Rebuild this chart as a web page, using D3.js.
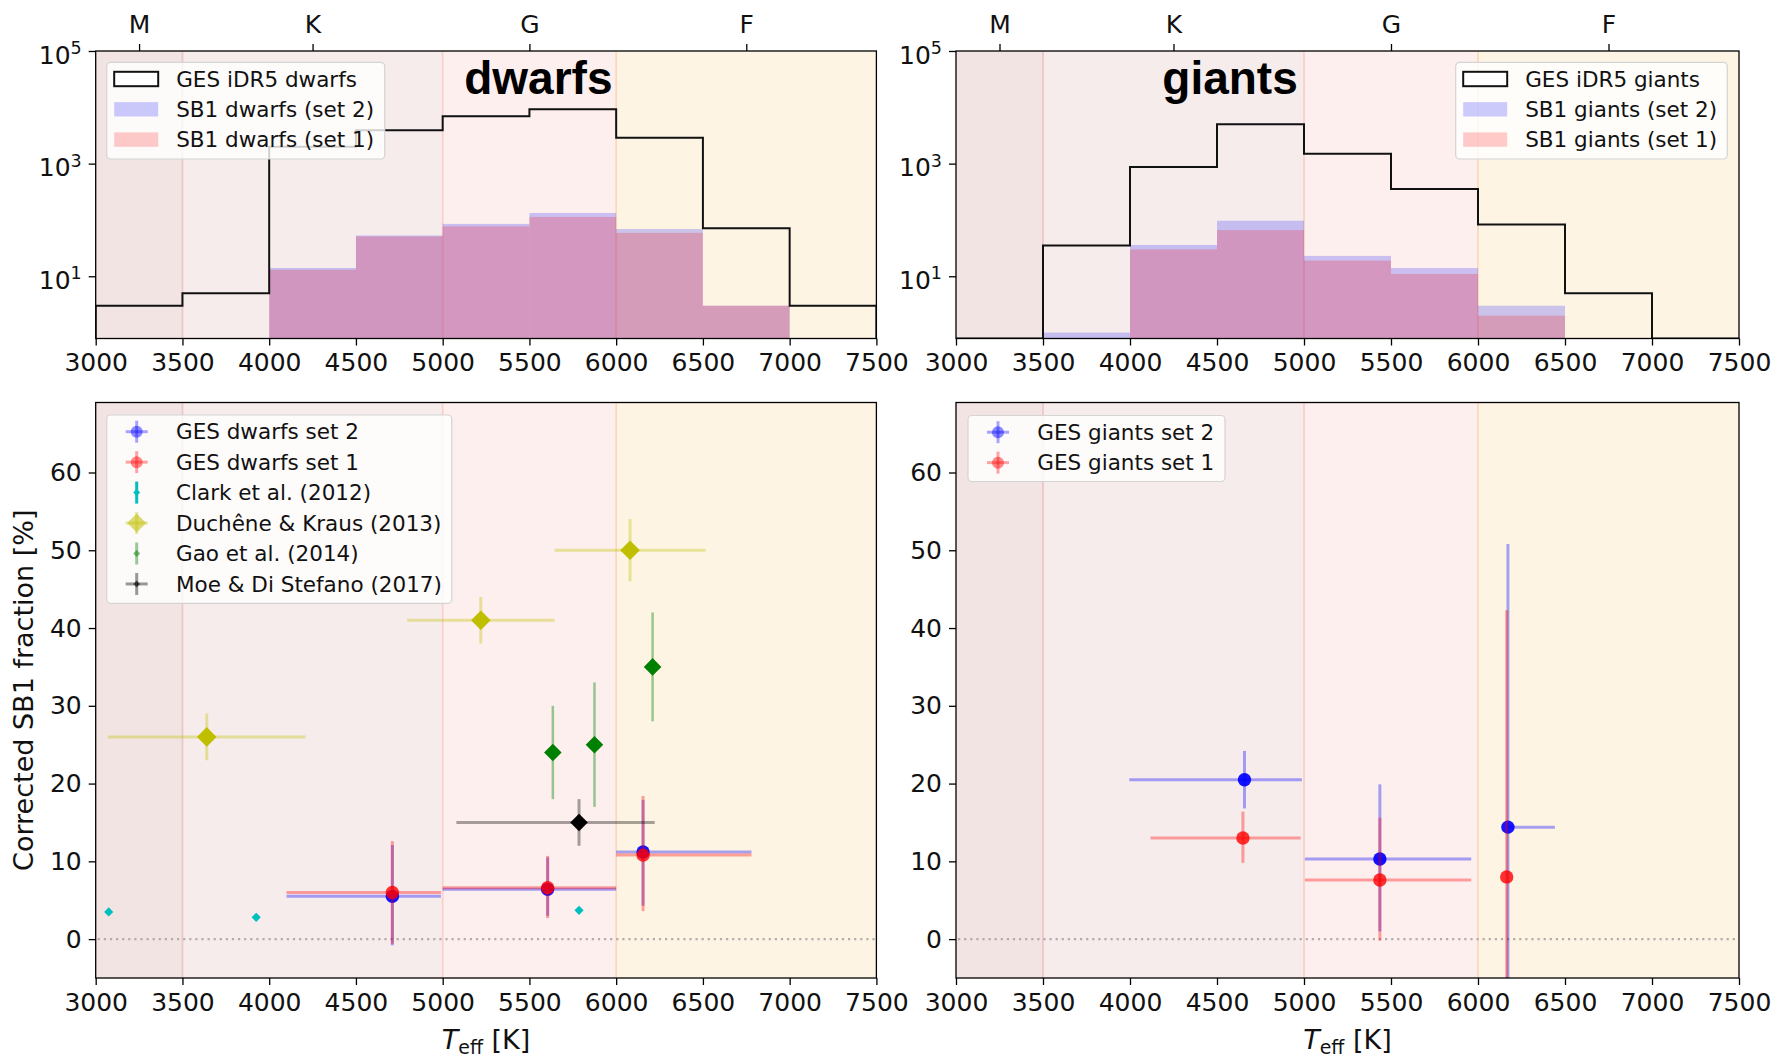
<!DOCTYPE html>
<html>
<head>
<meta charset="utf-8">
<script src="https://cdn.jsdelivr.net/npm/d3@7"></script>
<style>
  html, body { margin: 0; padding: 0; background: #ffffff; }
  svg { display: block; }
  text { font-family: "DejaVu Sans", sans-serif; fill: #111; }
</style>
</head>
<body>
<svg id="figure" width="1787" height="1057"></svg>
<script>
// ---------- Temperature binning and axis ticks ----------
const binEdges = [3000, 3500, 4000, 4500, 5000, 5500, 6000, 6500, 7000, 7500];
const teffTicks = [3000, 3500, 4000, 4500, 5000, 5500, 6000, 6500, 7000, 7500];
const countTicks = [1e1, 1e3, 1e5];
const fractionTicks = [0, 10, 20, 30, 40, 50, 60];
const spectralClasses = ["M", "K", "G", "F"];
const spectralClassTeff = [3250, 4250, 5500, 6750];
const classSpanEdges = [3000, 3500, 5000, 6000, 7500];

// ---------- Star counts per Teff bin ----------
const gesDwarfCounts = [3, 5, 2000, 3900, 6950, 9250, 2870, 71, 3];
const sb1DwarfCountsSet2 = [0, 0, 14, 53, 85, 133, 69, 3, 0];
const sb1DwarfCountsSet1 = [0, 0, 13, 51, 77, 113, 59, 3, 0];
const gesGiantCounts = [0, 35, 867, 5015, 1494, 353, 83, 5, 0];
const sb1GiantCountsSet2 = [0, 1, 36, 97, 23, 14, 3, 0, 0];
const sb1GiantCountsSet1 = [0, 0, 30, 66, 19, 11, 2, 0, 0];

// ---------- Corrected SB1 fractions: GES dwarfs ----------
const dwarfTeffSet2 = [4710, 5605, 6155];
const dwarfTeffErrLoSet2 = [610, 605, 155];
const dwarfTeffErrHiSet2 = [280, 395, 625];
const dwarfFracSet2 = [5.5, 6.4, 11.2];
const dwarfFracErrLoSet2 = [6.3, 3.4, 6.9];
const dwarfFracErrHiSet2 = [6.6, 4.1, 6.7];

const dwarfTeffSet1 = [4710, 5605, 6155];
const dwarfTeffErrLoSet1 = [610, 605, 155];
const dwarfTeffErrHiSet1 = [280, 395, 625];
const dwarfFracSet1 = [6.0, 6.6, 10.8];
const dwarfFracErrLoSet1 = [6.6, 3.9, 7.2];
const dwarfFracErrHiSet1 = [6.6, 4.1, 7.6];

// ---------- Literature values ----------
const clarkTeff = [3075, 3925, 5786];
const clarkFrac = [3.5, 2.8, 3.7];
const clarkFracErr = [0.4, 0.4, 0.4];

const duchene13Teff = [3640, 5220, 6080];
const duchene13TeffErr = [570, 425, 435];
const duchene13Frac = [26, 41, 50];
const duchene13FracErr = [3, 3, 4];

const gao14Teff = [5635, 5875, 6210];
const gao14Frac = [24, 25, 35];
const gao14FracErr = [6, 8, 7];

const moe17Teff = [5786];
const moe17TeffErrLo = [707];
const moe17TeffErrHi = [436];
const moe17Frac = [15];
const moe17FracErr = [3];

// ---------- Corrected SB1 fractions: GES giants ----------
const giantTeffSet2 = [4658, 5436, 6172];
const giantTeffErrLoSet2 = [662, 431, 0];
const giantTeffErrHiSet2 = [330, 525, 270];
const giantFracSet2 = [20.5, 10.3, 14.4];
const giantFracErrLoSet2 = [3.7, 9.3, 20.4];
const giantFracErrHiSet2 = [3.7, 9.6, 36.4];

const giantTeffSet1 = [4649, 5436, 6165];
const giantTeffErrLoSet1 = [531, 431, 0];
const giantTeffErrHiSet1 = [332, 525, 0];
const giantFracSet1 = [13.0, 7.6, 8.0];
const giantFracErrLoSet1 = [3.2, 7.8, 14.0];
const giantFracErrHiSet1 = [3.4, 8.0, 34.3];

// ---------- Layout and styling ----------
const columns = [{ x0: 95.7, x1: 876.4 }, { x0: 956, x1: 1739 }];
const histRow = { y0: 51, y1: 338.5 };
const fracRow = { y0: 402.5, y1: 978 };
const countDomain = [0.785, 1e5];
const fracDomain = [-5, 69];

const classFill = ["#f3e4e4", "#f7ecec", "#fdefed", "#fef4e4"];
const classEdge = { 3500: "#ebc7c8", 5000: "#f8d1cd", 6000: "#fbd8bd" };
const tickFont = 25, legendFont = 21.5, labelFont = 27;

const svg = d3.select("#figure");
const defs = svg.append("defs");
let clipCount = 0;

function makePanel(col, row, yScale) {
  const x = d3.scaleLinear().domain([3000, 7500]).range([col.x0, col.x1]);
  const y = yScale.range([row.y1, row.y0]);
  const id = "clip" + (clipCount++);
  defs.append("clipPath").attr("id", id).append("rect")
    .attr("x", col.x0).attr("y", row.y0)
    .attr("width", col.x1 - col.x0).attr("height", row.y1 - row.y0);
  const g = svg.append("g");
  const plot = g.append("g").attr("clip-path", `url(#${id})`);

  // spectral class background bands
  for (let i = 0; i < classSpanEdges.length - 1; i++) {
    plot.append("rect")
      .attr("x", x(classSpanEdges[i])).attr("y", row.y0)
      .attr("width", x(classSpanEdges[i + 1]) - x(classSpanEdges[i]))
      .attr("height", row.y1 - row.y0)
      .attr("fill", classFill[i]);
  }
  classSpanEdges.slice(1, -1).forEach(t => {
    plot.append("line")
      .attr("x1", x(t)).attr("x2", x(t)).attr("y1", row.y0).attr("y2", row.y1)
      .attr("stroke", classEdge[t]).attr("stroke-width", 1.8);
  });
  return { g, plot, x, y, row, col };
}

function styleAxis(axisG, size) {
  axisG.select(".domain").remove();
  axisG.selectAll(".tick line").attr("stroke", "#000").attr("stroke-width", 1.3);
  axisG.selectAll(".tick text")
    .attr("font-family", "DejaVu Sans, sans-serif")
    .attr("font-size", size).attr("fill", "#111");
}

function drawFrame(p) {
  p.g.append("rect")
    .attr("x", p.col.x0).attr("y", p.row.y0)
    .attr("width", p.col.x1 - p.col.x0).attr("height", p.row.y1 - p.row.y0)
    .attr("fill", "none").attr("stroke", "#000").attr("stroke-width", 1.3);
}

function drawTeffAxis(p) {
  const ax = p.g.append("g").attr("transform", `translate(0,${p.row.y1})`)
    .call(d3.axisBottom(p.x).tickValues(teffTicks).tickFormat(d3.format("d"))
      .tickSize(7).tickPadding(8));
  styleAxis(ax, tickFont);
}

function drawSpectralAxis(p) {
  const ax = p.g.append("g").attr("transform", `translate(0,${p.row.y0})`)
    .call(d3.axisTop(p.x).tickValues(spectralClassTeff)
      .tickFormat((d, i) => spectralClasses[i]).tickSize(7).tickPadding(11));
  styleAxis(ax, tickFont);
}

function drawLegendBox(g, x0, y0, w, h) {
  g.append("rect").attr("x", x0).attr("y", y0).attr("width", w).attr("height", h)
    .attr("rx", 4).attr("ry", 4)
    .attr("fill", "#ffffff").attr("fill-opacity", 0.8)
    .attr("stroke", "#d4d4d4").attr("stroke-width", 1.2);
}

// ---------- Histogram panels ----------
function histPanel(col, counts, set2, set1, names, legendX, legendW, title, titleFrac) {
  const p = makePanel(col, histRow, d3.scaleLog().domain(countDomain));
  const base = countDomain[0];
  const bins = counts.map((c, i) => ({ lo: binEdges[i], hi: binEdges[i + 1] }));

  [[set2, "#0000ff"], [set1, "#ff0000"]].forEach(([vals, color]) => {
    p.plot.append("g").selectAll("rect")
      .data(bins.map((b, i) => ({ ...b, v: vals[i] })).filter(d => d.v > 0))
      .join("rect")
      .attr("x", d => p.x(d.lo)).attr("width", d => p.x(d.hi) - p.x(d.lo))
      .attr("y", d => p.y(d.v)).attr("height", d => p.y(base) - p.y(d.v))
      .attr("fill", color).attr("fill-opacity", 0.2);
  });

  // outline of the full sample as a step histogram
  const pts = [[binEdges[0], base]];
  counts.forEach((c, i) => {
    const v = c > 0 ? c : base;
    pts.push([binEdges[i], v], [binEdges[i + 1], v]);
  });
  pts.push([binEdges[binEdges.length - 1], base]);
  p.plot.append("path")
    .attr("d", d3.line().x(d => p.x(d[0])).y(d => p.y(d[1]))(pts))
    .attr("fill", "none").attr("stroke", "#111").attr("stroke-width", 2);

  // title
  p.g.append("text")
    .attr("x", col.x0 + titleFrac * (col.x1 - col.x0)).attr("y", 94)
    .attr("text-anchor", "middle")
    .attr("font-weight", "bold").attr("font-size", 46)
    .style("font-family", "Liberation Sans, Arial, sans-serif")
    .style("fill", "#000")
    .text(title);

  // legend
  const lg = p.g.append("g");
  const ly0 = 62.3;
  drawLegendBox(lg, legendX, ly0, legendW, 96.7);
  const patches = [
    { fill: "#ffffff", stroke: "#111" },
    { fill: "rgba(0,0,255,0.2)", stroke: "none" },
    { fill: "rgba(255,0,0,0.2)", stroke: "none" }
  ];
  names.forEach((name, i) => {
    const cy = ly0 + 16.7 + i * 30.3;
    lg.append("rect").attr("x", legendX + 7.5).attr("y", cy - 7.2)
      .attr("width", 44).attr("height", 14.4)
      .attr("fill", patches[i].fill).attr("stroke", patches[i].stroke)
      .attr("stroke-width", patches[i].stroke === "none" ? 0 : 2);
    lg.append("text").attr("x", legendX + 69.5).attr("y", cy + 7.7)
      .attr("font-size", legendFont).text(name);
  });

  drawFrame(p);
  drawTeffAxis(p);
  drawSpectralAxis(p);

  const ay = p.g.append("g").attr("transform", `translate(${col.x0},0)`)
    .call(d3.axisLeft(p.y).tickValues(countTicks).tickSize(7).tickPadding(7));
  styleAxis(ay, tickFont);
  ay.selectAll(".tick text").attr("dy", "0.48em").each(function (d) {
    const t = d3.select(this);
    t.text("");
    t.append("tspan").text("10");
    t.append("tspan").attr("dy", "-0.55em").attr("font-size", "0.7em")
      .text(Math.round(Math.log10(d)));
  });
  return p;
}

histPanel(columns[0], gesDwarfCounts, sb1DwarfCountsSet2, sb1DwarfCountsSet1,
  ["GES iDR5 dwarfs", "SB1 dwarfs (set 2)", "SB1 dwarfs (set 1)"], 106.7, 278, "dwarfs", 0.567);
histPanel(columns[1], gesGiantCounts, sb1GiantCountsSet2, sb1GiantCountsSet1,
  ["GES iDR5 giants", "SB1 giants (set 2)", "SB1 giants (set 1)"], 1455.7, 271.6, "giants", 0.35);

// ---------- Fraction panels ----------
function series(teff, teffLo, teffHi, frac, fracLo, fracHi) {
  return teff.map((t, i) => ({
    t, tLo: teffLo ? teffLo[i] : 0, tHi: teffHi ? teffHi[i] : 0,
    f: frac[i], fLo: fracLo[i], fHi: fracHi[i]
  }));
}

function markerPath(shape, r) {
  if (shape === "circle") return d3.symbol(d3.symbolCircle, Math.PI * r * r)();
  return d3.symbol(d3.symbolSquare, 2 * r * r)();
}

function drawErrorbars(p, data, st) {
  const g = p.plot.append("g");
  data.forEach(d => {
    if (d.tLo > 0 || d.tHi > 0) {
      g.append("line")
        .attr("x1", p.x(d.t - d.tLo)).attr("x2", p.x(d.t + d.tHi))
        .attr("y1", p.y(d.f)).attr("y2", p.y(d.f))
        .attr("stroke", st.color).attr("stroke-opacity", st.barAlpha)
        .attr("stroke-width", st.barWidth);
    }
    g.append("line")
      .attr("x1", p.x(d.t)).attr("x2", p.x(d.t))
      .attr("y1", p.y(d.f - d.fLo)).attr("y2", p.y(d.f + d.fHi))
      .attr("stroke", st.color).attr("stroke-opacity", st.barAlpha)
      .attr("stroke-width", st.barWidth);
  });
  g.selectAll("path.mk").data(data).join("path").attr("class", "mk")
    .attr("d", markerPath(st.shape, st.size))
    .attr("transform", d => `translate(${p.x(d.t)},${p.y(d.f)})` + (st.shape === "diamond" ? " rotate(45)" : ""))
    .attr("fill", st.color).attr("fill-opacity", st.markerAlpha);
}

function drawFracLegend(p, x0, y0, w, h, entries) {
  const lg = p.g.append("g");
  drawLegendBox(lg, x0, y0, w, h);
  entries.forEach((e, i) => {
    const cy = y0 + 16.7 + i * 30.45;
    const cx = x0 + 30;
    if (e.hbar) lg.append("line").attr("x1", cx - 11).attr("x2", cx + 11)
      .attr("y1", cy).attr("y2", cy).attr("stroke", e.color)
      .attr("stroke-opacity", e.barAlpha).attr("stroke-width", 3);
    lg.append("line").attr("x1", cx).attr("x2", cx).attr("y1", cy - 11).attr("y2", cy + 11)
      .attr("stroke", e.color).attr("stroke-opacity", e.barAlpha).attr("stroke-width", 3);
    lg.append("path").attr("d", markerPath(e.shape, e.size))
      .attr("transform", `translate(${cx},${cy})` + (e.shape === "diamond" ? " rotate(45)" : ""))
      .attr("fill", e.markerColor || e.color).attr("fill-opacity", e.markerAlpha);
    lg.append("text").attr("x", x0 + 69.3).attr("y", cy + 7.7)
      .attr("font-size", legendFont).text(e.label);
  });
}

function fracPanel(col, showYLabel) {
  const p = makePanel(col, fracRow, d3.scaleLinear().domain(fracDomain));
  p.plot.append("line")
    .attr("x1", col.x0 + 2).attr("x2", col.x1).attr("y1", p.y(0)).attr("y2", p.y(0))
    .attr("stroke", "#a8a0a0").attr("stroke-opacity", 0.85)
    .attr("stroke-width", 2.2).attr("stroke-dasharray", "2.2,3.9");
  drawFrame(p);
  drawTeffAxis(p);
  const ay = p.g.append("g").attr("transform", `translate(${col.x0},0)`)
    .call(d3.axisLeft(p.y).tickValues(fractionTicks).tickSize(7).tickPadding(7));
  styleAxis(ay, tickFont);

  const xl = p.g.append("text")
    .attr("x", (col.x0 + col.x1) / 2).attr("y", 1048.5)
    .attr("text-anchor", "middle").attr("font-size", labelFont);
  xl.append("tspan").attr("font-style", "italic").text("T");
  xl.append("tspan").attr("font-size", "0.7em").attr("dy", 5).text("eff");
  xl.append("tspan").attr("dy", -5).text(" [K]");

  if (showYLabel) {
    p.g.append("text")
      .attr("transform", `translate(33,${(fracRow.y0 + fracRow.y1) / 2}) rotate(-90)`)
      .attr("text-anchor", "middle").attr("font-size", labelFont)
      .text("Corrected SB1 fraction [%]");
  }
  return p;
}

const gesSet2Style = { color: "#0000ff", barAlpha: 0.35, barWidth: 3, shape: "circle", size: 6.7, markerAlpha: 0.92 };
const gesSet1Style = { color: "#ff0000", barAlpha: 0.35, barWidth: 3, shape: "circle", size: 6.7, markerAlpha: 0.8 };

// dwarfs
const pd = fracPanel(columns[0], true);
drawErrorbars(pd, series(dwarfTeffSet2, dwarfTeffErrLoSet2, dwarfTeffErrHiSet2,
  dwarfFracSet2, dwarfFracErrLoSet2, dwarfFracErrHiSet2), gesSet2Style);
drawErrorbars(pd, series(dwarfTeffSet1, dwarfTeffErrLoSet1, dwarfTeffErrHiSet1,
  dwarfFracSet1, dwarfFracErrLoSet1, dwarfFracErrHiSet1), gesSet1Style);
drawErrorbars(pd, series(clarkTeff, null, null, clarkFrac, clarkFracErr, clarkFracErr),
  { color: "#00bfbf", barAlpha: 1, barWidth: 2, shape: "diamond", size: 4.6, markerAlpha: 1 });
drawErrorbars(pd, series(duchene13Teff, duchene13TeffErr, duchene13TeffErr,
  duchene13Frac, duchene13FracErr, duchene13FracErr),
  { color: "#bfbf00", barAlpha: 0.35, barWidth: 3, shape: "diamond", size: 9.8, markerAlpha: 1 });
drawErrorbars(pd, series(gao14Teff, null, null, gao14Frac, gao14FracErr, gao14FracErr),
  { color: "#008000", barAlpha: 0.4, barWidth: 2.5, shape: "diamond", size: 8.8, markerAlpha: 1 });
drawErrorbars(pd, series(moe17Teff, moe17TeffErrLo, moe17TeffErrHi, moe17Frac, moe17FracErr, moe17FracErr),
  { color: "#000000", barAlpha: 0.35, barWidth: 3, shape: "diamond", size: 8.8, markerAlpha: 1 });

drawFracLegend(pd, 106.7, 415, 345, 188.3, [
  { label: "GES dwarfs set 2", color: "#0000ff", barAlpha: 0.35, hbar: true, shape: "circle", size: 6, markerAlpha: 0.45 },
  { label: "GES dwarfs set 1", color: "#ff0000", barAlpha: 0.35, hbar: true, shape: "circle", size: 6, markerAlpha: 0.45 },
  { label: "Clark et al. (2012)", color: "#00bfbf", barAlpha: 1, hbar: false, shape: "diamond", size: 3.5, markerAlpha: 1 },
  { label: "Duchêne & Kraus (2013)", color: "#bfbf00", barAlpha: 0.35, hbar: true, shape: "diamond", size: 9.5, markerAlpha: 0.55 },
  { label: "Gao et al. (2014)", color: "#008000", barAlpha: 0.4, hbar: false, shape: "diamond", size: 3.5, markerAlpha: 0.5 },
  { label: "Moe & Di Stefano (2017)", color: "#000000", barAlpha: 0.4, hbar: true, shape: "diamond", size: 3.5, markerAlpha: 0.55 }
]);

// giants
const pg = fracPanel(columns[1], false);
drawErrorbars(pg, series(giantTeffSet2, giantTeffErrLoSet2, giantTeffErrHiSet2,
  giantFracSet2, giantFracErrLoSet2, giantFracErrHiSet2), gesSet2Style);
drawErrorbars(pg, series(giantTeffSet1, giantTeffErrLoSet1, giantTeffErrHiSet1,
  giantFracSet1, giantFracErrLoSet1, giantFracErrHiSet1), gesSet1Style);

drawFracLegend(pg, 968, 415.5, 257, 66, [
  { label: "GES giants set 2", color: "#0000ff", barAlpha: 0.35, hbar: true, shape: "circle", size: 6, markerAlpha: 0.45 },
  { label: "GES giants set 1", color: "#ff0000", barAlpha: 0.35, hbar: true, shape: "circle", size: 6, markerAlpha: 0.45 }
]);
</script>
</body>
</html>
